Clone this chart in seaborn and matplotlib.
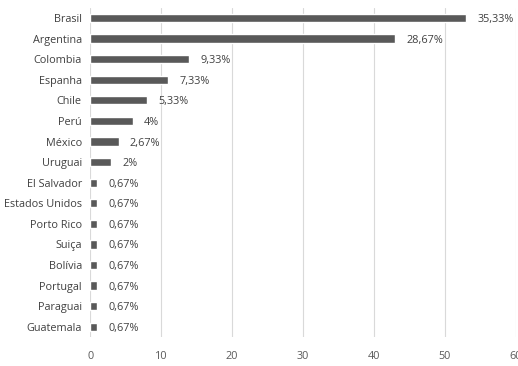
import matplotlib
matplotlib.use("Agg")
import matplotlib.pyplot as plt
import seaborn as sns
import pandas as pd

countries = ["Brasil", "Argentina", "Colombia", "Espanha", "Chile", "Perú", "México",
             "Uruguai", "El Salvador", "Estados Unidos", "Porto Rico", "Suiça",
             "Bolívia", "Portugal", "Paraguai", "Guatemala"]
counts = [53, 43, 14, 11, 8, 6, 4, 3, 1, 1, 1, 1, 1, 1, 1, 1]
pct_labels = ["35,33%", "28,67%", "9,33%", "7,33%", "5,33%", "4%", "2,67%", "2%",
              "0,67%", "0,67%", "0,67%", "0,67%", "0,67%", "0,67%", "0,67%", "0,67%"]
xticks = [0, 10, 20, 30, 40, 50, 60]

df = pd.DataFrame({"country": countries, "count": counts})

sns.set_theme(style="white")
plt.rcParams['font.family'] = ['Open Sans', 'DejaVu Sans']

fig = plt.figure(figsize=(5.18, 3.66), dpi=100)
ax = fig.add_axes([0.174, 0.079, 0.822, 0.900])

sns.barplot(data=df, x="count", y="country", color="#595959", width=0.4,
            saturation=1, ax=ax, zorder=3)

for i, (v, lab) in enumerate(zip(counts, pct_labels)):
    ax.annotate(lab, (v, i), xytext=(8, 0), textcoords="offset points",
                va="center_baseline", ha="left", fontsize=7.8, color="#404040")

ax.set_xlim(0, 60)
ax.set_xticks(xticks)
ax.set_xticklabels([str(t) for t in xticks])
ax.set_xlabel("")
ax.set_ylabel("")
ax.grid(axis="x", color="#d9d9d9", linewidth=0.8, zorder=0)
ax.grid(axis="y", visible=False)
for s in ax.spines.values():
    s.set_visible(False)
ax.tick_params(axis="x", length=0, labelsize=7.8, colors="#595959", pad=10)
ax.tick_params(axis="y", length=0, labelsize=7.8, colors="#404040", pad=6)

fig.savefig("out.png", dpi=100)
